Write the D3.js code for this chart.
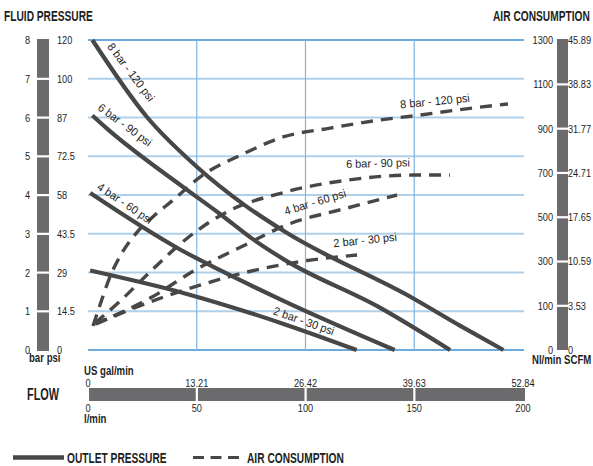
<!DOCTYPE html>
<html>
<head>
<meta charset="utf-8">
<script src="https://cdn.jsdelivr.net/npm/d3@7"></script>
<style>
body { margin: 0; background: #fff; }
svg text { font-family: "Liberation Sans", Arial, sans-serif; fill: #1e1e1e; }
.b { font-weight: bold; }
</style>
</head>
<body>
<div id="chart"></div>
<script>
// flow axis: l/min below the bar, US gal/min above it
var flowLpm = [0, 50, 100, 150, 200];
var flowGpm = ["0", "13.21", "26.42", "39.63", "52.84"];
// fluid pressure axis
var barTicks = [0, 1, 2, 3, 4, 5, 6, 7, 8];
var psiTicks = ["0", "14.5", "29", "43.5", "58", "72.5", "87", "100", "120"];
// air consumption axis
var airNl = [0, 100, 300, 500, 700, 900, 1100, 1300];
var airScfm = ["0", "3.53", "10.59", "17.65", "24.71", "31.77", "38.83", "45.89"];

// outlet pressure curves, [l/min, bar]
var outlet8 = [[2, 8], [27, 6.02], [50, 4.73], [72, 3.74], [90.6, 3.05], [149.6, 1.33], [171, 0.63], [191, 0]];
var outlet6 = [[2, 6.05], [9, 5.7], [44.6, 4.17], [60.7, 3.51], [75.3, 2.88], [90.6, 2.32], [134, 1.1], [166.5, 0]];
var outlet4 = [[1, 4.05], [41.5, 2.62], [60.7, 2.06], [90.6, 1.25], [141, 0]];
var outlet2 = [[1, 2.05], [44.6, 1.46], [90.6, 0.66], [123.5, 0]];

// air consumption curves, [l/min, Nl/min]
var air8 = [[2.3, 54], [5.5, 103], [10.1, 230], [15.6, 338], [23, 437], [31.3, 514], [39.1, 577], [51.5, 681],
	[71.3, 785], [89.7, 862], [111.3, 902], [134.3, 939], [149.4, 957], [177, 993], [193.1, 1011]];
var air6 = [[3.2, 61], [13.8, 112], [29.4, 261], [44.6, 397], [63, 519], [90.6, 613], [119.1, 667], [149.4, 690], [166.4, 690]];
var air4 = [[3.2, 59], [29.4, 139], [49.2, 261], [72.2, 374], [90.6, 462], [119.1, 541], [142.1, 600]];
var air2 = [[3.7, 59], [28.5, 117], [51.5, 193], [73.1, 252], [96.1, 297], [123.7, 329]];

var curveNames = ["8 bar - 120 psi", "6 bar - 90 psi", "4 bar - 60 psi", "2 bar - 30 psi"];

var width = 593, height = 466;
var plot = {left: 88, right: 523, top: 40, bottom: 350};

var svg = d3.select("#chart").append("svg")
	.attr("width", width)
	.attr("height", height);

var x = d3.scaleLinear().domain([0, 200]).range([plot.left, plot.right]);
var yBar = d3.scaleLinear().domain([0, 8]).range([plot.bottom, plot.top]);
// the air axis ticks are evenly spaced, so 0-100 takes a full step
var step = (plot.bottom - plot.top) / 7;
var yAir = d3.scaleLinear().domain([0, 100, 1300]).range([plot.bottom, plot.bottom - step, plot.top]);

// the original uses a condensed face, squeeze the text horizontally
var narrow = function(sel, k) {
	sel.each(function() {
		var t = d3.select(this);
		var tr = t.attr("transform") || "translate(" + (+t.attr("x") || 0) + "," + (+t.attr("y") || 0) + ")";
		t.attr("x", null).attr("y", null)
			.attr("transform", tr + " scale(" + k + ",1)");
	});
};

// grid
svg.append("g").selectAll("line")
	.data(barTicks)
	.enter().append("line")
	.attr("x1", plot.left).attr("x2", plot.right + 1)
	.attr("y1", function(d) { return yBar(d); })
	.attr("y2", function(d) { return yBar(d); })
	.attr("stroke", function(d) { return (d == 0 || d == 8) ? "#3b8fd2" : "#afd0ea"; })
	.attr("stroke-width", function(d) { return (d == 0 || d == 8) ? 1.5 : 2; });

svg.append("g").selectAll("line")
	.data([50, 100, 150])
	.enter().append("line")
	.attr("x1", function(d) { return x(d); })
	.attr("x2", function(d) { return x(d); })
	.attr("y1", plot.top).attr("y2", plot.bottom + 1)
	.attr("stroke", "#7fb4de")
	.attr("stroke-width", 1.2);

// left pressure bar
var leftBar = svg.append("g");
leftBar.append("rect")
	.attr("x", 37).attr("width", 12)
	.attr("y", yBar(8) - 1).attr("height", yBar(0) - yBar(8) + 2)
	.attr("fill", "#6b6b6e");
leftBar.selectAll(".tk")
	.data(barTicks.slice(1, 8))
	.enter().append("rect")
	.attr("x", 36).attr("width", 14)
	.attr("y", function(d) { return yBar(d) - 1; })
	.attr("height", 2.2)
	.attr("fill", "#fff");
leftBar.selectAll(".lb")
	.data(barTicks)
	.enter().append("text").attr("class", "tick")
	.attr("x", 30)
	.attr("y", function(d) { return yBar(d); })
	.attr("dy", "0.35em")
	.attr("text-anchor", "end")
	.text(function(d) { return d; });
leftBar.selectAll(".psi")
	.data(psiTicks)
	.enter().append("text").attr("class", "tick")
	.attr("x", 57)
	.attr("y", function(d, i) { return yBar(barTicks[i]); })
	.attr("dy", "0.35em")
	.text(function(d) { return d; });
leftBar.append("text").attr("class", "b unit")
	.attr("x", 29).attr("y", 362)
	.text("bar psi");

// right air bar
var rightBar = svg.append("g");
rightBar.append("rect")
	.attr("x", 557).attr("width", 11)
	.attr("y", yAir(1300) - 1).attr("height", yAir(0) - yAir(1300) + 1)
	.attr("fill", "#6b6b6e");
rightBar.selectAll(".tk")
	.data(airNl.slice(1, 7))
	.enter().append("rect")
	.attr("x", 555).attr("width", 14)
	.attr("y", function(d) { return yAir(d) - 1; })
	.attr("height", 2.2)
	.attr("fill", "#fff");
rightBar.selectAll(".nl")
	.data(airNl)
	.enter().append("text").attr("class", "tick")
	.attr("x", 553)
	.attr("y", function(d) { return yAir(d); })
	.attr("dy", "0.35em")
	.attr("text-anchor", "end")
	.text(function(d) { return d; });
rightBar.selectAll(".scfm")
	.data(airScfm)
	.enter().append("text").attr("class", "tick")
	.attr("x", 568)
	.attr("y", function(d, i) { return yAir(airNl[i]); })
	.attr("dy", "0.35em")
	.text(function(d) { return d; });
rightBar.append("text").attr("class", "b unit")
	.attr("x", 532).attr("y", 364)
	.text("Nl/min SCFM");

// titles
svg.append("text").attr("class", "b title")
	.attr("x", 4).attr("y", 21)
	.text("FLUID PRESSURE");
svg.append("text").attr("class", "b title")
	.attr("x", 493).attr("y", 21)
	.text("AIR CONSUMPTION");

// flow bar
var flowBar = svg.append("g");
flowBar.append("rect")
	.attr("x", x(0) + 1).attr("width", x(200) - x(0) + 1)
	.attr("y", 388).attr("height", 13)
	.attr("fill", "#6b6b6e");
flowBar.selectAll(".tk")
	.data(flowLpm.slice(1, 4))
	.enter().append("rect")
	.attr("x", function(d) { return x(d) - 1; })
	.attr("width", 2.2)
	.attr("y", 387).attr("height", 15)
	.attr("fill", "#fff");
flowBar.selectAll(".gpm")
	.data(flowGpm)
	.enter().append("text").attr("class", "tick")
	.attr("x", function(d, i) { return x(flowLpm[i]); })
	.attr("y", 386.5)
	.attr("text-anchor", "middle")
	.text(function(d) { return d; });
flowBar.selectAll(".lpm")
	.data(flowLpm)
	.enter().append("text").attr("class", "tick")
	.attr("x", function(d) { return x(d); })
	.attr("y", 412)
	.attr("text-anchor", "middle")
	.text(function(d) { return d; });
flowBar.append("text").attr("class", "b unit")
	.attr("x", 84).attr("y", 375)
	.text("US gal/min");
flowBar.append("text").attr("class", "b unit")
	.attr("x", 84).attr("y", 422.5)
	.text("l/min");
flowBar.append("text").attr("class", "b title")
	.attr("x", 27).attr("y", 400)
	.attr("font-size", 16)
	.text("FLOW");

// curves
var outletLine = d3.line()
	.x(function(d) { return x(d[0]); })
	.y(function(d) { return yBar(d[1]); })
	.curve(d3.curveMonotoneX);
var airLine = d3.line()
	.x(function(d) { return x(d[0]); })
	.y(function(d) { return yAir(d[1]); })
	.curve(d3.curveMonotoneX);

var lineColor = "#474747";

svg.append("g").selectAll("path")
	.data([outlet8, outlet6, outlet4, outlet2])
	.enter().append("path")
	.attr("d", outletLine)
	.attr("fill", "none")
	.attr("stroke", lineColor)
	.attr("stroke-width", 4.2);

svg.append("g").selectAll("path")
	.data([air8, air6, air4, air2])
	.enter().append("path")
	.attr("d", airLine)
	.attr("fill", "none")
	.attr("stroke", lineColor)
	.attr("stroke-width", 3.4)
	.attr("stroke-dasharray", "12,8");

// curve labels, placed in data units
var outletLabels = [[19.8, 7.17, 52.7], [17, 5.81, 36.5], [17, 3.79, 34], [99.3, 0.75, 19.5]];
var airLabels = [[159.5, 1024, -5.5], [133.3, 744, -1.5], [104.4, 568, -17], [127.4, 397, -6]];

svg.append("g").selectAll("text")
	.data(outletLabels)
	.enter().append("text").attr("class", "curve")
	.attr("transform", function(d) { return "translate(" + x(d[0]) + "," + yBar(d[1]) + ") rotate(" + d[2] + ")"; })
	.attr("text-anchor", "middle")
	.attr("dy", "0.35em")
	.text(function(d, i) { return curveNames[i]; });

svg.append("g").selectAll("text")
	.data(airLabels)
	.enter().append("text").attr("class", "curve")
	.attr("transform", function(d) { return "translate(" + x(d[0]) + "," + yAir(d[1]) + ") rotate(" + d[2] + ")"; })
	.attr("text-anchor", "middle")
	.attr("dy", "0.35em")
	.text(function(d, i) { return curveNames[i]; });

// legend
var legend = svg.append("g");
legend.append("line")
	.attr("x1", 13).attr("x2", 64).attr("y1", 457.5).attr("y2", 457.5)
	.attr("stroke", lineColor).attr("stroke-width", 4.5);
legend.append("text").attr("class", "b title")
	.attr("x", 67).attr("y", 463)
	.text("OUTLET PRESSURE");
legend.append("line")
	.attr("x1", 193).attr("x2", 239).attr("y1", 457.5).attr("y2", 457.5)
	.attr("stroke", lineColor).attr("stroke-width", 3)
	.attr("stroke-dasharray", "11,6.5");
legend.append("text").attr("class", "b title")
	.attr("x", 247).attr("y", 463)
	.text("AIR CONSUMPTION");

// font sizes and squeeze per text kind
svg.selectAll("text.tick").attr("font-size", 11.5);
svg.selectAll("text.unit").attr("font-size", 12.5);
svg.selectAll("text.title").filter(function() { return !this.getAttribute("font-size"); }).attr("font-size", 15);
svg.selectAll("text.curve").attr("font-size", 11.5);
narrow(svg.selectAll("text.tick"), 0.8);
narrow(svg.selectAll("text.unit"), 0.77);
narrow(svg.selectAll("text.title"), 0.68);
narrow(svg.selectAll("text.curve"), 0.95);
</script>
</body>
</html>
